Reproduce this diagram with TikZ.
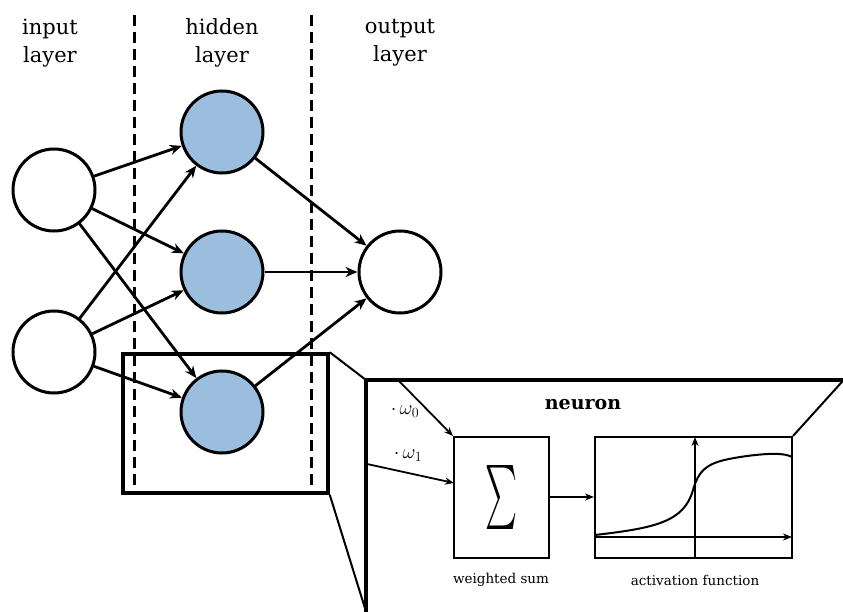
\RequirePackage{fix-cm}
\documentclass[tikz,border=0pt]{standalone}
\usepackage{amsmath}
\usepackage{fontspec}
\setmainfont{DejaVu Serif}
\usetikzlibrary{arrows.meta}
\definecolor{hid}{RGB}{155,190,222}
\begin{document}
\begin{tikzpicture}[x=1pt,y=-1pt,
  neur/.style={circle,draw,line width=3pt,minimum size=82pt,inner sep=0pt},
  conn/.style={line width=2.8pt,-{Stealth[length=12pt,width=10pt]}},
  thinarr/.style={line width=1.8pt,-{Stealth[length=9pt,width=7pt]}},
  lab/.style={font=\fontsize{21}{28}\selectfont,align=center},
  smalltext/.style={font=\fontsize{13.5}{15}\selectfont}]
\useasboundingbox (0,0) rectangle (843,612);
% dashed separators
\draw[line width=3pt,dash pattern=on 11pt off 6pt] (134,15) -- (134,490);
\draw[line width=3pt,dash pattern=on 11pt off 6pt] (311,15) -- (311,490);
% labels
\node[lab] (li) at (50,43) {input\\layer};
\node[lab] (lh) at (222,43) {hidden\\layer};
\node[lab] (lo) at (400,43) {output\\layer};
% neurons
\node[neur,fill=white] (i1) at (54,190) {};
\node[neur,fill=white] (i2) at (54,352) {};
\node[neur,fill=hid] (h1) at (222,132) {};
\node[neur,fill=hid] (h2) at (222,272) {};
\node[neur,fill=hid] (h3) at (222,412) {};
\node[neur,fill=white] (o) at (400,272) {};
\foreach \a in {i1,i2}{\foreach \b in {h1,h2,h3}{\draw[conn] (\a) -- (\b);}}
\foreach \a in {h1,h2,h3}{\draw[conn] (\a) -- (o);}
% zoom rectangle
\node[draw,line width=3.5pt,minimum width=205pt,minimum height=139pt,inner sep=0pt] (zr) at (225.5,423.5) {};
% big box
\coordinate (bbl) at (366,620);
\coordinate (btl) at (366,380);
\coordinate (btr) at (850,380);
\draw[line width=3.5pt] (bbl) -- (btl) -- (btr);
\draw[line width=2pt] (zr.north east) -- (btl);
\draw[line width=2pt] (zr.south east) -- (368,618);
\node[font=\fontsize{19}{24}\selectfont\bfseries] (neu) at (583,405) {neuron};
% sum box
\node[draw,line width=2pt,minimum width=95pt,minimum height=121pt,inner sep=0pt] (sum) at (501.5,497.5) {\resizebox{32pt}{48pt}{$\textstyle\sum$}};
\node[draw,line width=2pt,minimum width=197pt,minimum height=121pt,inner sep=0pt] (act) at (693.5,497.5) {};
\draw[line width=2pt] (act.north east) -- (850,373);
\coordinate (w0) at (398,380);
\coordinate (w1) at (367,464);
\coordinate (w1e) at (454,483);
\draw[thinarr] (w0) -- (sum.north west);
\draw[thinarr] (w1) -- (w1e);
\node[font=\fontsize{20}{22}\selectfont] (l0) at (405,412) {$\cdot\,\omega_0$};
\node[font=\fontsize{20}{22}\selectfont] (l1) at (408,456) {$\cdot\,\omega_1$};
\draw[thinarr] (sum.east |- 0,497) -- (act.west |- 0,497);
% axes
\coordinate (ax0) at (695,558);
\coordinate (ax1) at (695,437);
\coordinate (ay0) at (595,537);
\coordinate (ay1) at (792,537);
\draw[thinarr,line width=1.6pt] (ax0) -- (ax1);
\draw[thinarr,line width=2.4pt] (ay0) -- (ay1);
\draw[line width=2pt] (595,535) .. controls (655,528) and (684,522) .. (693,490)
  .. controls (700,465) and (712,461) .. (747,456)
  .. controls (770,453) and (785,453) .. (792,457);
\node[smalltext] (ws) at (501,580) {weighted sum};
\node[smalltext] (af) at (695,580) {activation function};
\end{tikzpicture}
\end{document}
